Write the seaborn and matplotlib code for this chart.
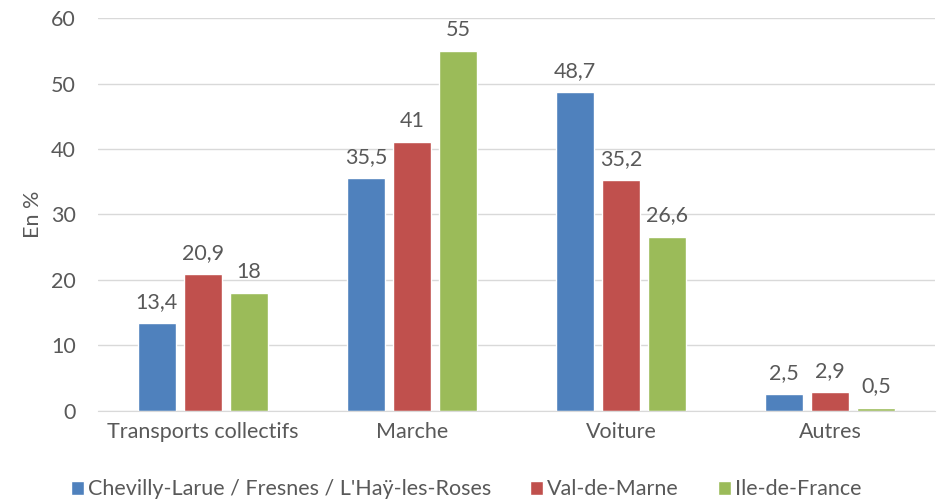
import matplotlib
matplotlib.use("Agg")
import matplotlib.pyplot as plt
import seaborn as sns
import pandas as pd

categories = ["Transports collectifs", "Marche", "Voiture", "Autres"]
series = ["Chevilly-Larue / Fresnes / L'Haÿ-les-Roses", "Val-de-Marne", "Ile-de-France"]
vals_chevilly = [13.4, 35.5, 48.7, 2.5]
vals_vdm = [20.9, 41, 35.2, 2.9]
vals_idf = [18, 55, 26.6, 0.5]
colors = ["#4F81BD", "#C0504D", "#9BBB59"]

rows = []
for s, vals in zip(series, [vals_chevilly, vals_vdm, vals_idf]):
    for c, v in zip(categories, vals):
        rows.append({"cat": c, "serie": s, "val": v})
df = pd.DataFrame(rows)

sns.set_style("white")
plt.rcParams['font.family'] = ['Lato', 'DejaVu Sans']
txt = "#595959"
fs = 15.5

fig = plt.figure(figsize=(9.45, 5.01), dpi=100)
ax = fig.add_axes([0.104, 0.180, 0.885, 0.784])
sns.barplot(data=df, x="cat", y="val", hue="serie", palette=colors, width=0.66,
            gap=0.18, saturation=1, ax=ax, order=categories, hue_order=series, legend=True)

ax.set_ylim(0, 60)
ax.set_yticks(range(0, 61, 10))
ax.yaxis.grid(True, color="#D9D9D9", linewidth=1)
ax.set_axisbelow(True)
for sp in ["top", "right", "left"]:
    ax.spines[sp].set_visible(False)
ax.spines["bottom"].set_color("#D9D9D9")
ax.tick_params(axis="y", length=0, labelsize=fs, colors=txt, pad=16)
ax.tick_params(axis="x", length=0, labelsize=fs, colors=txt, pad=8)
ax.set_xlabel("")
ax.set_ylabel("En %", fontsize=fs, color=txt, labelpad=6)

for cont in ax.containers:
    labels = [("%g" % b.get_height()).replace(".", ",") for b in cont]
    ax.bar_label(cont, labels=labels, padding=8, fontsize=fs, color=txt)

h, l = ax.get_legend_handles_labels()
ax.legend(h, l, loc="upper center", bbox_to_anchor=(0.44, -0.125), ncol=3, frameon=False,
          fontsize=fs, labelcolor=txt, handlelength=0.6, handleheight=0.6,
          handletextpad=0.2, columnspacing=1.8)

fig.savefig("out.png", dpi=100)
